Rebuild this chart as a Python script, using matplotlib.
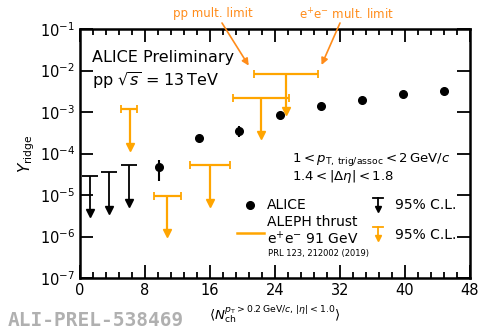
import numpy as np
import matplotlib
matplotlib.use('Agg')
import matplotlib.pyplot as plt

# ALICE measured points
alice_x = np.array([9.7, 14.7, 19.6, 24.6, 29.7, 34.7, 39.75, 44.8])
alice_y = np.array([4.6e-5, 2.3e-4, 3.5e-4, 8.5e-4, 1.38e-3, 2.0e-3, 2.7e-3, 3.2e-3])
alice_err = np.array([2.4e-5, 4e-5, 1e-4, 4e-5, 5e-5, 6e-5, 8e-5, 9e-5])

# ALICE 95% C.L. upper limits
lim_x = np.array([1.2, 3.6, 6.0])
lim_y = np.array([2.9e-5, 3.5e-5, 5.2e-5])

# ALEPH thrust 95% C.L. upper limits (with multiplicity ranges)
aleph_x = np.array([6.1, 10.75, 16.0, 22.3, 25.3])
aleph_lo = np.array([5.1, 9.1, 13.5, 18.8, 21.4])
aleph_hi = np.array([7.05, 12.4, 18.5, 25.75, 29.25])
aleph_y = np.array([1.17e-3, 9.5e-6, 5.2e-5, 2.2e-3, 8.3e-3])

orange = '#FFA500'
dark_orange = '#FF8C1A'

fig = plt.figure(figsize=(4.8, 3.31), dpi=100)
ax = fig.add_axes([80/480, 1-278/331, 390/480, 249/331])
ax.set_yscale('log')
ax.set_xlim(0, 48)
ax.set_ylim(1e-7, 1e-1)

# ALICE upper limits: T-bar plus arrow down one decade
ax.hlines(lim_y, lim_x - 1.0, lim_x + 1.0, color='black', lw=1.3)
ax.vlines(lim_x, lim_y / 10 * 1.25, lim_y, color='black', lw=1.3)
ax.plot(lim_x, lim_y / 10 * 1.25, 'v', color='black', ms=5.5, mec='black')

# ALEPH limits
ax.errorbar(aleph_x, aleph_y, xerr=[aleph_x - aleph_lo, aleph_hi - aleph_x],
            fmt='none', ecolor=orange, elinewidth=1.6, capsize=3, capthick=1.3)
ax.vlines(aleph_x, aleph_y / 10 * 1.25, aleph_y, color=orange, lw=1.6)
ax.plot(aleph_x, aleph_y / 10 * 1.25, 'v', color=orange, ms=5.5, mec=orange)

# ALICE points
ax.errorbar(alice_x, alice_y, yerr=alice_err, fmt='o', color='black',
            ms=5.5, elinewidth=1.5, capsize=0)

ax.set_xticks(np.arange(0, 49, 8))
ax.set_xticks(np.arange(0, 48.1, 1.6), minor=True)
ax.set_yticks([10.0**k for k in range(-7, 0)])
ax.yaxis.set_minor_locator(matplotlib.ticker.NullLocator())
ax.tick_params(which='both', direction='in', top=True, right=True, labelsize=10.5, width=1.3)
ax.tick_params(which='major', length=9.5)
ax.tick_params(which='minor', length=4)
for s in ax.spines.values():
    s.set_linewidth(1.8)

ax.set_ylabel(r'$Y_{\rm ridge}$', fontsize=11, labelpad=2)
ax.set_xlabel(r'$\langle N_{\rm ch}^{p_{\rm T}>0.2\,{\rm GeV}/c,\,|\eta|<1.0}\rangle$',
              fontsize=9.5, labelpad=4)

ax.text(0.031, 0.884, 'ALICE Preliminary', transform=ax.transAxes, fontsize=11.5, va='center')
ax.text(0.031, 0.795, r'pp $\sqrt{s}$ = 13$\,$TeV', transform=ax.transAxes, fontsize=11.5, va='center')
ax.text(0.544, 0.474, r'$1 < p_{\rm T,\,trig/assoc} < 2\,{\rm GeV}/c$', transform=ax.transAxes,
        fontsize=9.5, va='center')
ax.text(0.544, 0.406, r'$1.4 < |\Delta\eta| < 1.8$', transform=ax.transAxes, fontsize=9.5, va='center')

# legend drawn by hand
ax.plot([0.436], [0.293], 'o', color='black', ms=5.5, transform=ax.transAxes)
ax.text(0.479, 0.293, 'ALICE', transform=ax.transAxes, fontsize=10, va='center')
ax.plot([0.403, 0.472], [0.181, 0.181], color=orange, lw=1.8, transform=ax.transAxes)
ax.text(0.479, 0.225, 'ALEPH thrust', transform=ax.transAxes, fontsize=10, va='center')
ax.text(0.479, 0.157, r'e$^{+}$e$^{-}$ 91 GeV', transform=ax.transAxes, fontsize=10, va='center')
ax.text(0.482, 0.100, 'PRL 123, 212002 (2019)', transform=ax.transAxes, fontsize=6, va='center')

for ytop, col in [(0.321, 'black'), (0.205, orange)]:
    ax.plot([0.75, 0.778], [ytop, ytop], color=col, lw=1.3, transform=ax.transAxes)
    ax.plot([0.764, 0.764], [ytop, ytop - 0.045], color=col, lw=1.3, transform=ax.transAxes)
    ax.plot([0.764], [ytop - 0.045], 'v', color=col, ms=5, transform=ax.transAxes)
ax.text(0.808, 0.293, '95% C.L.', transform=ax.transAxes, fontsize=10, va='center')
ax.text(0.808, 0.173, '95% C.L.', transform=ax.transAxes, fontsize=10, va='center')

# multiplicity-limit annotations
fig.text(213/480, 1-13/331, 'pp mult. limit', color=dark_orange, fontsize=8.5, ha='center', va='center')
fig.text(346/480, 1-15/331, r'e$^{+}$e$^{-}$ mult. limit', color=dark_orange, fontsize=8.5,
         ha='center', va='center')
arrow = dict(arrowstyle='-|>', color=dark_orange, lw=1.2, shrinkA=0, shrinkB=7,
             mutation_scale=10)
ax.annotate('', xy=(aleph_lo[4], aleph_y[4]), xycoords='data',
            xytext=(222/480, 1-23/331), textcoords='figure fraction', arrowprops=arrow,
            annotation_clip=False)
ax.annotate('', xy=(aleph_hi[4], aleph_y[4]), xycoords='data',
            xytext=(340/480, 1-23/331), textcoords='figure fraction', arrowprops=arrow,
            annotation_clip=False)

fig.text(8/480, 1/331, 'ALI-PREL-538469', color='#b0b0b0', fontsize=14,
         family='DejaVu Sans Mono', weight='bold', va='bottom')

fig.savefig('out.png', dpi=100)
